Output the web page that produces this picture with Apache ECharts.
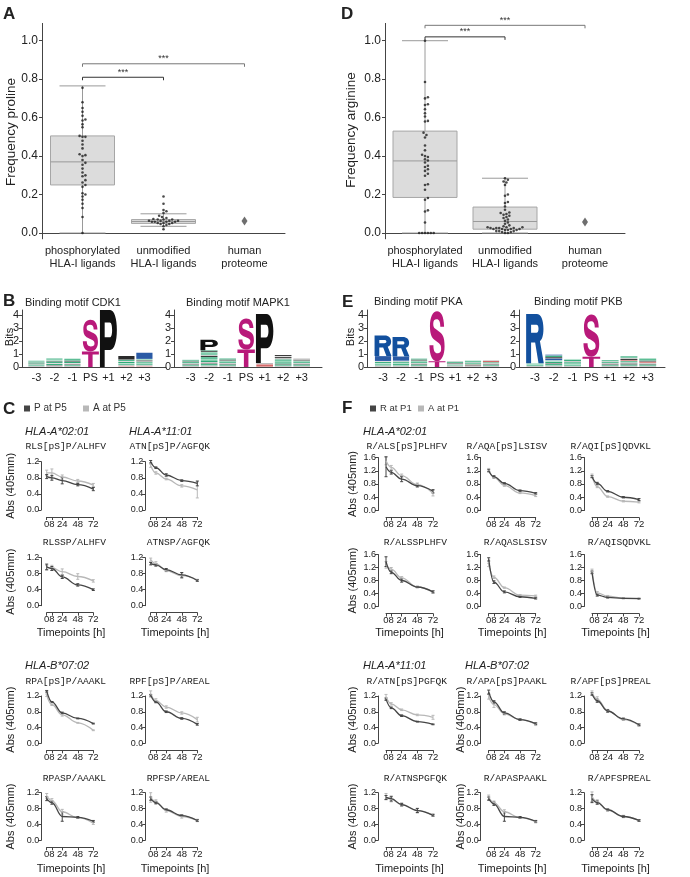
<!DOCTYPE html>
<html><head><meta charset="utf-8">
<script src="https://cdn.jsdelivr.net/npm/echarts@6/dist/echarts.min.js"></script>
<style>html,body{margin:0;padding:0;background:#fff}#c{width:690px;height:877px}</style>
</head><body><div id="c"></div><script>
// ---------------- DATA ----------------
const boxCategories = ['phosphorylated\nHLA-I ligands', 'unmodified\nHLA-I ligands', 'human\nproteome'];
// [min, Q1, median, Q3, max]
const prolineBox = [[0, 0.25, 0.37, 0.505, 0.765], [0.035, 0.05, 0.06, 0.07, 0.10]];
const prolineProteome = 0.062;
const prolinePhospho = [0.755, 0.68, 0.65, 0.63, 0.61, 0.59, 0.585, 0.565, 0.55, 0.505, 0.50, 0.50, 0.48, 0.46, 0.44, 0.41, 0.405, 0.40, 0.38, 0.365, 0.355, 0.335, 0.315, 0.30, 0.295, 0.275, 0.263, 0.25, 0.24, 0.207, 0.20, 0.19, 0.173, 0.152, 0.13, 0.083, 0.0];
const prolineUnmod = [0.19, 0.152, 0.12, 0.113, 0.104, 0.09, 0.083, 0.078, 0.073, 0.07, 0.07, 0.07, 0.064, 0.064, 0.064, 0.064, 0.059, 0.059, 0.059, 0.059, 0.052, 0.052, 0.052, 0.047, 0.047, 0.042, 0.035, 0.02];
const prolineSig = [[0, 1, 0.81], [0, 2, 0.88]];

const arginineBox = [[0, 0.185, 0.375, 0.53, 1.0], [0, 0.02, 0.06, 0.135, 0.285]];
const arginineProteome = 0.057;
const argininePhospho = [1.0, 0.785, 0.706, 0.70, 0.67, 0.666, 0.644, 0.623, 0.606, 0.583, 0.58, 0.522, 0.51, 0.497, 0.455, 0.43, 0.407, 0.40, 0.395, 0.384, 0.377, 0.367, 0.35, 0.343, 0.332, 0.323, 0.308, 0.298, 0.254, 0.25, 0.225, 0.182, 0.173, 0.118, 0.112, 0.055, 0, 0, 0, 0, 0, 0];
const arginineUnmod = [0.285, 0.277, 0.268, 0.263, 0.25, 0.2, 0.194, 0.161, 0.156, 0.138, 0.121, 0.107, 0.104, 0.099, 0.095, 0.09, 0.083, 0.078, 0.07, 0.064, 0.055, 0.048, 0.04, 0.035, 0.03, 0.03, 0.03, 0.026, 0.026, 0.026, 0.026, 0.021, 0.021, 0.021, 0.021, 0.016, 0.016, 0.016, 0.01, 0.01, 0.01, 0.005, 0.005, 0, 0];
const arginineSig = [[0, 1, 1.02], [0, 2, 1.08]];

// Sequence logos: per position, stack bottom->top of [symbol, bits]
// big letters S,T,P,R; small stripes: g green, l light green, k black, a gray, b blue, r red
const logoPositions = ['-3', '-2', '-1', 'PS', '+1', '+2', '+3'];
const logoCDK1 = [
  [['a',.08],['g',.07],['l',.06],['k',.04],['g',.1],['a',.05],['g',.08]],
  [['a',.08],['k',.05],['g',.1],['a',.06],['g',.12],['k',.06],['l',.08],['g',.1]],
  [['a',.08],['g',.08],['k',.06],['a',.06],['g',.12],['k',.08],['g',.12],['l',.06]],
  [['T',1.2],['S',2.45]],
  [['P',4.4]],
  [['r',.05],['a',.08],['g',.08],['l',.06],['g',.12],['a',.06],['g',.1],['k',.3]],
  [['r',.05],['a',.08],['g',.08],['l',.05],['g',.1],['a',.06],['k',.08],['l',.1],['b',.5]]
];
const logoMAPK1 = [
  [['a',.08],['g',.08],['k',.05],['a',.06],['g',.1],['l',.06],['k',.04],['g',.08]],
  [['a',.1],['g',.12],['k',.06],['a',.08],['g',.15],['l',.1],['g',.14],['k',.1],['a',.08],['g',.12],['l',.1],['k',.1],['g',.05],['P',.8]],
  [['a',.08],['g',.1],['k',.06],['a',.06],['g',.12],['l',.06],['k',.08],['g',.09]],
  [['T',1.35],['S',2.4]],
  [['r',.2],['a',.1],['P',3.8]],
  [['a',.08],['g',.1],['k',.06],['g',.12],['l',.1],['g',.12],['a',.08],['k',.1],['a',.06],['k',.1]],
  [['a',.08],['g',.1],['k',.06],['a',.06],['g',.12],['l',.06],['k',.08],['a',.09]]
];
const logoPKA = [
  [['a',.1],['g',.1],['l',.08],['g',.1],['a',.06],['b',.4],['R',1.6]],
  [['a',.1],['g',.12],['l',.08],['g',.1],['a',.06],['b',.35],['R',1.5]],
  [['a',.08],['g',.1],['k',.06],['a',.06],['g',.12],['l',.06],['k',.08],['g',.08]],
  [['T',.45],['S',3.85]],
  [['a',.1],['g',.08],['a',.06],['k',.06],['g',.1],['a',.05]],
  [['a',.08],['k',.06],['r',.04],['g',.1],['a',.06],['g',.1],['l',.06]],
  [['a',.08],['g',.08],['k',.05],['a',.06],['g',.08],['r',.12],['a',.06]]
];
const logoPKB = [
  [['a',.08],['g',.1],['l',.1],['R',3.82]],
  [['a',.1],['g',.12],['k',.06],['g',.12],['l',.1],['b',.15],['k',.1],['g',.12],['b',.08]],
  [['a',.08],['g',.1],['l',.06],['g',.12],['a',.08],['g',.1],['l',.08]],
  [['T',.8],['S',3.25]],
  [['a',.08],['g',.08],['k',.06],['a',.08],['g',.1],['a',.06],['g',.08]],
  [['a',.08],['g',.1],['k',.08],['a',.08],['g',.1],['r',.08],['k',.1],['a',.08],['g',.12]],
  [['a',.08],['g',.1],['k',.06],['a',.06],['r',.1],['k',.08],['g',.12],['l',.08]]
];

// Time courses
const timepoints = [0, 8, 24, 48, 72];
const timeTickValues = [0, 8, 24, 48, 72];
// each: [dark series, light series, dark error, light error]
const RLSpSP_ALHFV = [[0.83,0.80,0.73,0.63,0.52],[0.92,0.92,0.82,0.72,0.62],[0.05,0.06,0.08,0.03,0.04],[0.07,0.1,0.05,0.04,0.04]];
const ATNpSP_AGFQK = [[1.2,1.05,0.87,0.73,0.66],[1.1,0.92,0.77,0.6,0.5],[0.03,0.02,0.03,0.02,0.06],[0.04,0.03,0.02,0.03,0.2]];
const RLSSP_ALHFV = [[0.97,0.93,0.72,0.52,0.4],[0.95,0.95,0.85,0.73,0.62],[0.07,0.05,0.04,0.03,0.02],[0.06,0.06,0.07,0.07,0.03]];
const ATNSP_AGFQK = [[1.05,1.02,0.9,0.77,0.63],[1.15,1.05,0.88,0.75,0.64],[0.03,0.03,0.03,0.06,0.02],[0.04,0.05,0.03,0.07,0.02]];
const RPApSP_AAAKL = [[1.32,1.05,0.77,0.63,0.5],[1.22,0.98,0.72,0.52,0.33],[0.02,0.01,0.02,0.01,0.01],[0.03,0.02,0.03,0.01,0.01]];
const RPFpSP_AREAL = [[1.22,1.05,0.8,0.63,0.48],[1.25,1.08,0.92,0.77,0.6],[0.02,0.02,0.02,0.02,0.02],[0.08,0.05,0.03,0.03,0.06]];
const RPASP_AAAKL = [[1.05,0.95,0.6,0.58,0.48],[1.12,1.0,0.72,0.57,0.43],[0.05,0.04,0.12,0.02,0.02],[0.06,0.05,0.06,0.02,0.03]];
const RPFSP_AREAL = [[1.05,0.95,0.77,0.62,0.5],[1.08,0.97,0.75,0.6,0.5],[0.04,0.03,0.02,0.02,0.02],[0.12,0.05,0.04,0.04,0.03]];

const R_ALSpSPLHFV = [[1.32,1.15,0.95,0.75,0.58],[1.5,1.3,1.05,0.78,0.52],[0.3,0.05,0.08,0.04,0.05],[0.12,0.06,0.05,0.05,0.08]];
const R_AQApSLSISV = [[1.2,1.02,0.82,0.6,0.52],[1.22,1.0,0.76,0.53,0.45],[0.03,0.03,0.02,0.02,0.02],[0.05,0.03,0.03,0.02,0.03]];
const R_AQIpSQDVKL = [[1.02,0.82,0.58,0.4,0.33],[1.05,0.72,0.42,0.28,0.25],[0.03,0.03,0.02,0.02,0.03],[0.05,0.03,0.02,0.02,0.02]];
const R_ALSSPLHFV = [[1.38,1.05,0.8,0.6,0.45],[1.28,1.15,0.88,0.6,0.45],[0.15,0.04,0.05,0.02,0.03],[0.1,0.05,0.04,0.02,0.04]];
const R_AQASLSISV = [[1.45,0.75,0.45,0.3,0.25],[1.28,0.9,0.58,0.35,0.33],[0.05,0.04,0.03,0.02,0.02],[0.05,0.04,0.02,0.02,0.02]];
const R_AQISQDVKL = [[1.05,0.35,0.28,0.25,0.24],[1.1,0.42,0.32,0.26,0.25],[0.04,0.03,0.02,0.01,0.01],[0.05,0.04,0.02,0.01,0.01]];
const R_ATNpSPGFQK = [[1.12,0.9,0.7,0.55,0.48],[1.18,1.0,0.85,0.72,0.66],[0.03,0.02,0.02,0.01,0.01],[0.06,0.03,0.02,0.02,0.05]];
const R_APApSPAAKL = [[1.3,1.05,0.77,0.6,0.5],[1.18,0.98,0.75,0.6,0.48],[0.05,0.03,0.03,0.02,0.02],[0.06,0.07,0.03,0.02,0.03]];
const R_APFpSPREAL = [[1.25,1.08,0.82,0.62,0.47],[1.28,1.12,0.83,0.6,0.46],[0.03,0.04,0.03,0.02,0.02],[0.05,0.06,0.03,0.02,0.03]];
const R_ATNSPGFQK = [[1.08,1.05,0.9,0.75,0.63],[1.1,1.03,0.9,0.75,0.64],[0.05,0.06,0.03,0.05,0.02],[0.08,0.06,0.04,0.06,0.03]];
const R_APASPAAKL = [[1.05,0.92,0.6,0.58,0.48],[1.08,0.95,0.72,0.57,0.47],[0.04,0.04,0.12,0.02,0.02],[0.06,0.04,0.05,0.02,0.03]];
const R_APFSPREAL = [[1.05,0.95,0.77,0.6,0.5],[1.1,0.97,0.76,0.6,0.5],[0.1,0.04,0.02,0.02,0.02],[0.12,0.05,0.03,0.03,0.02]];

// ---------------- STYLE / LAYOUT ----------------
const FONT = '"Liberation Sans", Arial, Helvetica, sans-serif';
const MONO = '"Liberation Mono", "Courier New", monospace';
const AX = '#444';
const TXT = '#222';
const DARK = '#454545', LIGHT = '#b8b8b8';
const LETTER_COLORS = {S: '#b8197a', T: '#b8197a', P: '#111111', R: '#12509e'};
const STRIPE_COLORS = {g: '#2faa78', l: '#93d6b8', k: '#2b2b2b', a: '#b4b4b4', b: '#2a5aa5', r: '#d46a6a'};
const LETTER_PATHS = {
  S: 'M70 31 L93 31 C92 10 75 0 50 0 C25 0 7 12 7 30 C7 48 20 54 42 59 L62 64 C72 67 75 70 75 75 C75 82 66 84 52 84 C38 84 28 80 28 68 L4 68 C5 90 22 100 50 100 C78 100 96 88 96 70 C96 50 82 45 60 40 L40 35 C30 33 27 30 27 25 C27 19 34 16 48 16 C62 16 70 20 70 31 Z',
  P: 'M0 0 H60 C85 0 100 15 100 35 C100 55 85 70 60 70 H28 V100 H0 Z M28 22 V48 H58 C68 48 72 42 72 35 C72 28 68 22 58 22 Z',
  T: 'M0 0 H100 V20 H63 V100 H37 V20 H0 Z',
  R: 'M0 0 H60 C84 0 98 12 98 30 C98 44 90 52 78 55 L100 100 H70 L51 58 H28 V100 H0 Z M28 22 V38 H58 C66 38 70 35 70 30 C70 25 66 22 58 22 Z'
};

const grid = [], xAxis = [], yAxis = [], series = [], G = [];

function txt(text, x, y, o) {
  o = o || {};
  const st = {text: text, fill: o.color || TXT, font: o.font || ('11px ' + FONT),
    align: o.align || 'left', verticalAlign: 'middle', textAlign: o.align || 'left', textVerticalAlign: 'middle'};
  G.push({type: 'text', x: x, y: y, rotation: o.rot || 0, silent: true, style: st});
}

function swarmOffsets(values, pxPerUnit, d) {
  const order = values.map((v, i) => i).sort((a, b) => values[a] - values[b]);
  const placed = [], offs = [];
  order.forEach(i => {
    const y = values[i] * pxPerUnit;
    let k = 0, x = null;
    while (x === null) {
      const cands = k === 0 ? [0] : [k * d / 2, -k * d / 2];
      for (const c of cands) {
        if (placed.every(p => Math.hypot(p[0] - c, p[1] - y) >= d * 0.95)) { x = c; break; }
      }
      k++;
    }
    placed.push([x, y]);
    offs[i] = x;
  });
  return offs;
}

function boxPanel(left, width, box, proteome, phospho, unmod, sig) {
  const top = 23.4, height = 215.4, ymin = -0.03, ymax = 1.09;
  const gi = grid.length;
  const yTicks = [0, 0.2, 0.4, 0.6, 0.8, 1.0];
  grid.push({left: left, top: top, width: width, height: height, outerBoundsMode: 'none'});
  xAxis.push({type: 'category', gridIndex: gi, data: boxCategories,
    axisLine: {lineStyle: {color: AX}}, axisTick: {alignWithLabel: true, length: 3, lineStyle: {color: AX}},
    axisLabel: {fontSize: 11, lineHeight: 13, color: TXT, fontFamily: FONT, margin: 6, interval: 0}});
  yAxis.push({type: 'value', gridIndex: gi, min: ymin, max: ymax,
    axisLine: {show: true, onZero: false, lineStyle: {color: AX}},
    axisTick: {show: true, length: 3, customValues: yTicks, lineStyle: {color: AX}},
    axisLabel: {customValues: yTicks, formatter: v => v.toFixed(1), fontSize: 12, color: TXT, fontFamily: FONT, margin: 4},
    splitLine: {show: false}});
  const pxU = height / (ymax - ymin);
  // boxes
  series.push({type: 'custom', xAxisIndex: gi, yAxisIndex: gi, z: 2,
    data: box.map((b, i) => [i, b[0], b[1], b[2], b[3], b[4]]),
    renderItem: function (p, api) {
      const c = api.value(0);
      const v = [1, 2, 3, 4, 5].map(k => api.value(k));
      const xc = api.coord([c, v[2]])[0];
      const y = val => api.coord([c, val])[1];
      const bw = 64, cw = 46;
      const ls = {stroke: '#9a9a9a', lineWidth: 1};
      return {type: 'group', children: [
        {type: 'line', shape: {x1: xc, y1: y(v[4]), x2: xc, y2: y(v[0])}, style: ls},
        {type: 'line', shape: {x1: xc - cw / 2, y1: y(v[4]), x2: xc + cw / 2, y2: y(v[4])}, style: ls},
        {type: 'line', shape: {x1: xc - cw / 2, y1: y(v[0]), x2: xc + cw / 2, y2: y(v[0])}, style: ls},
        {type: 'rect', shape: {x: xc - bw / 2, y: y(v[3]), width: bw, height: y(v[1]) - y(v[3])}, style: {fill: '#dcdcdc', stroke: '#a6a6a6', lineWidth: 1}},
        {type: 'line', shape: {x1: xc - bw / 2, y1: y(v[2]), x2: xc + bw / 2, y2: y(v[2])}, style: {stroke: '#9a9a9a', lineWidth: 1}}
      ]};
    }});
  // swarm points
  [phospho, unmod].forEach((vals, cat) => {
    const offs = swarmOffsets(vals, pxU, 2.9);
    series.push({type: 'scatter', xAxisIndex: gi, yAxisIndex: gi, z: 5, symbolSize: 2.6,
      itemStyle: {color: '#1e1e1e'}, silent: true,
      data: vals.map((v, i) => ({value: [cat, v], symbolOffset: [offs[i], 0]}))});
  });
  series.push({type: 'scatter', xAxisIndex: gi, yAxisIndex: gi, z: 5, symbol: 'diamond', symbolSize: [6, 9],
    itemStyle: {color: '#4a4a4a'}, data: [[2, proteome]]});
  // significance brackets
  series.push({type: 'custom', xAxisIndex: gi, yAxisIndex: gi, z: 4, clip: false,
    data: sig,
    renderItem: function (p, api) {
      const a = api.coord([api.value(0), api.value(2)]);
      const b = api.coord([api.value(1), api.value(2)]);
      const col = p.dataIndex === 0 ? '#333' : '#777';
      return {type: 'group', children: [
        {type: 'polyline', shape: {points: [[a[0], a[1] + 3], [a[0], a[1]], [b[0], b[1]], [b[0], b[1] + 3]]}, style: {stroke: col, lineWidth: 1, fill: null}},
        {type: 'text', x: (a[0] + b[0]) / 2, y: a[1] - 5, style: {text: '***', fill: '#333', font: '9px ' + FONT, align: 'center', verticalAlign: 'middle'}}
      ]};
    }});
}

function logoPanel(left, width, xmin, xmax, stacks) {
  const gi = grid.length;
  grid.push({left: left, top: 310, width: width, height: 57, outerBoundsMode: 'none'});
  const pos = [0, 1, 2, 3, 4, 5, 6];
  xAxis.push({type: 'value', gridIndex: gi, min: xmin, max: xmax,
    axisLine: {show: true, onZero: false, lineStyle: {color: AX}}, axisTick: {show: false}, splitLine: {show: false},
    axisLabel: {customValues: pos, formatter: v => logoPositions[Math.round(v)], fontSize: 11, margin: 5, color: TXT, fontFamily: FONT}});
  yAxis.push({type: 'value', gridIndex: gi, min: 0, max: 4.4,
    axisLine: {show: true, onZero: false, lineStyle: {color: AX}},
    axisTick: {show: true, length: 3, customValues: [0, 1, 2, 3, 4], lineStyle: {color: AX}},
    axisLabel: {customValues: [0, 1, 2, 3, 4], fontSize: 11, margin: 3, color: TXT, fontFamily: FONT},
    splitLine: {show: false}});
  const items = [];
  stacks.forEach((st, p) => {
    let y = 0;
    st.forEach(e => { items.push({pos: p, y0: y, y1: y + e[1], sym: e[0]}); y += e[1]; });
  });
  series.push({type: 'custom', xAxisIndex: gi, yAxisIndex: gi, clip: false, z: 3,
    data: items.map(it => [it.pos, it.y0, it.y1]),
    renderItem: function (params, api) {
      const it = items[params.dataIndex];
      const big = LETTER_PATHS[it.sym];
      const hw = big ? (it.sym === 'S' ? 0.42 : 0.47) : 0.45;
      const p0 = api.coord([api.value(0) - hw, api.value(2)]);
      const p1 = api.coord([api.value(0) + hw, api.value(1)]);
      const w = p1[0] - p0[0], h = p1[1] - p0[1];
      if (big) {
        return {type: 'path', shape: {pathData: big, x: p0[0], y: p0[1], width: w, height: h, layout: 'cover'},
          style: {fill: LETTER_COLORS[it.sym]}};
      }
      return {type: 'rect', shape: {x: p0[0], y: p0[1], width: w, height: Math.max(h - 0.35, 0.4)},
        style: {fill: STRIPE_COLORS[it.sym]}};
    }});
}

function timeChart(left, top, width, height, ymax, yOff, data, names) {
  const gi = grid.length;
  grid.push({left: left, top: top, width: width, height: height, outerBoundsMode: 'none'});
  xAxis.push({type: 'value', gridIndex: gi, min: 0, max: 72, offset: 7,
    axisLine: {show: true, onZero: false, lineStyle: {color: AX}},
    axisTick: {show: true, length: 3, customValues: timeTickValues, lineStyle: {color: AX}},
    axisLabel: {customValues: timeTickValues, fontSize: 9.5, margin: 2, color: TXT, fontFamily: FONT},
    splitLine: {show: false}});
  yAxis.push({type: 'value', gridIndex: gi, min: 0, max: ymax, interval: 0.4, offset: yOff,
    axisLine: {show: true, onZero: false, lineStyle: {color: AX}},
    axisTick: {show: true, length: 3, lineStyle: {color: AX}},
    axisLabel: {fontSize: 9, margin: 2, color: TXT, fontFamily: FONT, formatter: v => v.toFixed(1)},
    splitLine: {show: false}});
  [[1, 3, LIGHT, names[1]], [0, 2, DARK, names[0]]].forEach(([vi, ei, col, nm]) => {
    series.push({type: 'custom', xAxisIndex: gi, yAxisIndex: gi, clip: false, z: 2,
      data: timepoints.map((t, i) => [t, data[vi][i] - data[ei][i], data[vi][i] + data[ei][i]]),
      renderItem: function (p, api) {
        const lo = api.coord([api.value(0), api.value(1)]);
        const hi = api.coord([api.value(0), api.value(2)]);
        const st = {stroke: col, lineWidth: 1};
        return {type: 'group', children: [
          {type: 'line', shape: {x1: lo[0], y1: lo[1], x2: hi[0], y2: hi[1]}, style: st},
          {type: 'line', shape: {x1: lo[0] - 1.5, y1: lo[1], x2: lo[0] + 1.5, y2: lo[1]}, style: st},
          {type: 'line', shape: {x1: hi[0] - 1.5, y1: hi[1], x2: hi[0] + 1.5, y2: hi[1]}, style: st}
        ]};
      }});
    series.push({type: 'line', name: nm, xAxisIndex: gi, yAxisIndex: gi, clip: false, z: 3,
      smooth: 0.4, smoothMonotone: 'x', symbol: 'none', color: col,
      lineStyle: {color: col, width: 1.3},
      data: timepoints.map((t, i) => [t, data[vi][i]])});
  });
}

// ---------------- BUILD ----------------
boxPanel(42, 243, prolineBox, prolineProteome, prolinePhospho, prolineUnmod, prolineSig);
boxPanel(385, 240, arginineBox, arginineProteome, argininePhospho, arginineUnmod, arginineSig);

logoPanel(22, 144, -0.8, 7.2, logoCDK1);
logoPanel(174, 148, -0.9, 7.1, logoMAPK1);
logoPanel(367, 144, -0.89, 7.11, logoPKA);
logoPanel(519, 146, -0.85, 6.92, logoPKB);

const cNames = ['P at P5', 'A at P5'];
const fNames = ['R at P1', 'A at P1'];
const cCols = [46.7, 150.7], cW = 46.6;
const cRows = [[461.7, 48.3], [557.7, 48], [696, 47.3], [792.7, 47.6]];
const cData = [[RLSpSP_ALHFV, ATNpSP_AGFQK], [RLSSP_ALHFV, ATNSP_AGFQK], [RPApSP_AAAKL, RPFpSP_AREAL], [RPASP_AAAKL, RPFSP_AREAL]];
const cTitles = [['RLS[pS]P/ALHFV', 'ATN[pS]P/AGFQK'], ['RLSSP/ALHFV', 'ATNSP/AGFQK'], ['RPA[pS]P/AAAKL', 'RPF[pS]P/AREAL'], ['RPASP/AAAKL', 'RPFSP/AREAL']];
const fCols = [386, 488.7, 592], fW = 47;
const fRows = [[457.5, 53, 1.6], [554.5, 52, 1.6], [696, 47.3, 1.2], [792.7, 47.6, 1.2]];
const fData = [[R_ALSpSPLHFV, R_AQApSLSISV, R_AQIpSQDVKL], [R_ALSSPLHFV, R_AQASLSISV, R_AQISQDVKL], [R_ATNpSPGFQK, R_APApSPAAKL, R_APFpSPREAL], [R_ATNSPGFQK, R_APASPAAKL, R_APFSPREAL]];
const fTitles = [['R/ALS[pS]PLHFV', 'R/AQA[pS]LSISV', 'R/AQI[pS]QDVKL'], ['R/ALSSPLHFV', 'R/AQASLSISV', 'R/AQISQDVKL'], ['R/ATN[pS]PGFQK', 'R/APA[pS]PAAKL', 'R/APF[pS]PREAL'], ['R/ATNSPGFQK', 'R/APASPAAKL', 'R/APFSPREAL']];
const titleY = [446, 542, 681, 778];
const cTitleX = [106, 210], fTitleX = [447, 547, 651];

cRows.forEach((r, ri) => cCols.forEach((x, ci) => {
  timeChart(x, r[0], cW, r[1], 1.2, 5.5, cData[ri][ci], cNames);
  txt(cTitles[ri][ci], cTitleX[ci], titleY[ri], {font: '9.6px ' + MONO, align: 'right'});
}));
fRows.forEach((r, ri) => fCols.forEach((x, ci) => {
  timeChart(x, r[0], fW, r[1], r[2], 8, fData[ri][ci], fNames);
  txt(fTitles[ri][ci], fTitleX[ci], titleY[ri], {font: '9.6px ' + MONO, align: 'right'});
}));

// texts
const bold = '17px ' + FONT;
txt('A', 3, 14, {font: 'bold ' + bold});
txt('D', 341, 14, {font: 'bold ' + bold});
txt('B', 3, 301, {font: 'bold ' + bold});
txt('E', 342, 302, {font: 'bold ' + bold});
txt('C', 3, 409, {font: 'bold ' + bold});
txt('F', 342, 408, {font: 'bold ' + bold});
txt('Frequency proline', 11, 132, {font: '13.5px ' + FONT, rot: Math.PI / 2, align: 'center'});
txt('Frequency arginine', 351, 130, {font: '13.5px ' + FONT, rot: Math.PI / 2, align: 'center'});
txt('Binding motif CDK1', 25, 303);
txt('Binding motif MAPK1', 186, 303);
txt('Binding motif PKA', 374, 302);
txt('Binding motif PKB', 534, 302);
txt('Bits', 10, 337, {rot: Math.PI / 2, align: 'center'});
txt('Bits', 351, 337, {rot: Math.PI / 2, align: 'center'});
const it11 = 'italic 11px ' + FONT;
txt('HLA-A*02:01', 25, 432, {font: it11});
txt('HLA-A*11:01', 129, 432, {font: it11});
txt('HLA-B*07:02', 25, 666, {font: it11});
txt('HLA-A*02:01', 363, 432, {font: it11});
txt('HLA-A*11:01', 363, 666, {font: it11});
txt('HLA-B*07:02', 465, 666, {font: it11});
cRows.forEach(r => txt('Abs (405mm)', 11, r[0] + r[1] / 2, {rot: Math.PI / 2, align: 'center'}));
fRows.forEach(r => txt('Abs (405mm)', 353, r[0] + r[1] / 2, {rot: Math.PI / 2, align: 'center'}));
fRows.slice(2).forEach(r => txt('Abs (405mm)', 461, r[0] + r[1] / 2, {rot: Math.PI / 2, align: 'center'}));
[633, 869].forEach(y => {
  cCols.forEach(x => txt('Timepoints [h]', x + cW / 2 + 1, y, {align: 'center'}));
  fCols.forEach(x => txt('Timepoints [h]', x + fW / 2, y, {align: 'center'}));
});

function legendItem(name, left, fs) {
  return {data: [name], left: left, top: 403.5, padding: 0, icon: 'rect', itemWidth: 6, itemHeight: 6,
    itemGap: 0, selectedMode: false, textStyle: {fontSize: fs, color: '#333', fontFamily: FONT, padding: [0, 0, 0, -1]}};
}

const chart = echarts.init(document.getElementById('c'), null, {renderer: 'canvas', width: 690, height: 877});
chart.setOption({
  animation: false,
  backgroundColor: '#ffffff',
  textStyle: {fontFamily: FONT},
  grid: grid, xAxis: xAxis, yAxis: yAxis, series: series,
  legend: [legendItem('P at P5', 24, 10), legendItem('A at P5', 83, 10), legendItem('R at P1', 370, 9.5), legendItem('A at P1', 418, 9.5)],
  graphic: {elements: G}
});
</script></body></html>
